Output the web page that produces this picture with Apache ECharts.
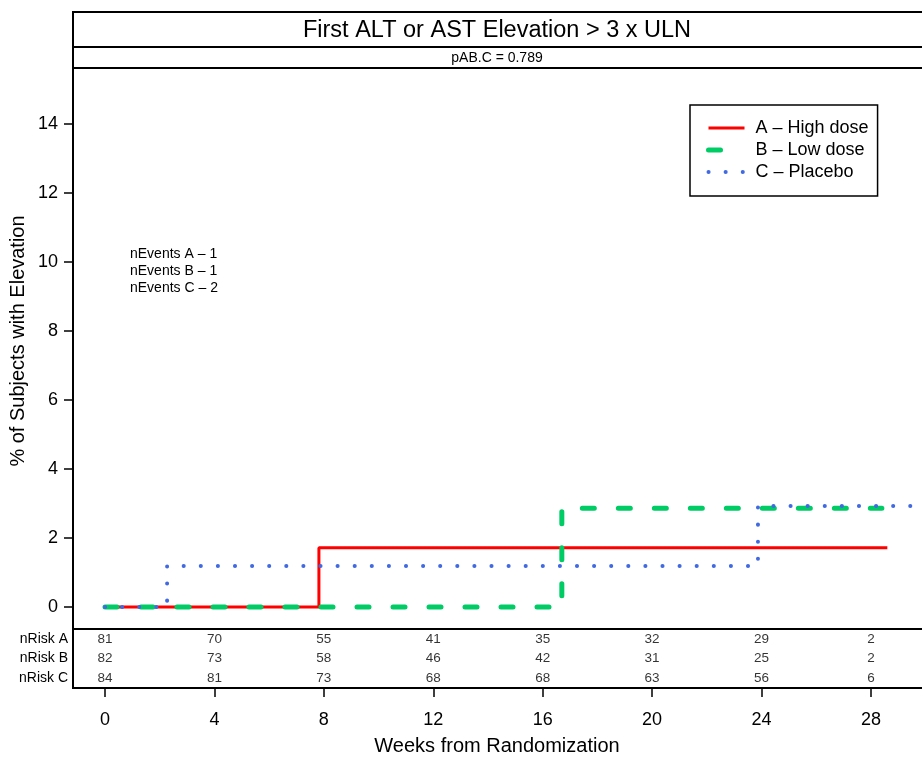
<!DOCTYPE html>
<html>
<head>
<meta charset="utf-8">
<script src="https://cdn.jsdelivr.net/npm/echarts@6/dist/echarts.min.js"></script>
<style>
  html, body { margin: 0; padding: 0; background: #fff; }
  #chart { width: 922px; height: 760px; }
</style>
</head>
<body>
<div id="chart"></div>
<script>
// weeks where the at-risk counts are reported
const weeks = [0, 4, 8, 12, 16, 20, 24, 28]
const riskA = [81, 70, 55, 41, 35, 32, 29, 2]
const riskB = [82, 73, 58, 46, 42, 31, 25, 2]
const riskC = [84, 81, 73, 68, 68, 63, 56, 6]
const riskRows = ['nRisk C', 'nRisk B', 'nRisk A']

const seriesNames = ['A – High dose', 'B – Low dose', 'C – Placebo']
// cumulative % with elevation, [week, percent] step points
const stepA = [[0, 0], [7.82, 1.72], [28.6, 1.72]]
const stepB = [[0, 0], [16.7, 2.86], [28.4, 2.86]]
const stepC = [[0, 0], [2.27, 1.19], [23.87, 2.93], [31, 2.93]]

const yTicks = [0, 2, 4, 6, 8, 10, 12, 14]
const nEvents = ['nEvents A – 1', 'nEvents B – 1', 'nEvents C – 2']

const FONT = '"Liberation Sans", Arial, sans-serif'
const X_MIN = -1.17
const X_MAX = 31.0

const lineStyles = [
  { color: '#ff0000', width: 3 },
  { color: '#00cc66', width: 5, type: [12, 24], cap: 'round' },
  { color: '#4169e1', width: 4, type: [0.1, 17], cap: 'round' }
]

function riskPoints (row, values) {
  return weeks.map((w, i) => [w, row, values[i]])
}

const chart = echarts.init(document.getElementById('chart'), null, { renderer: 'canvas' })

const option = {
  animation: false,
  textStyle: { fontFamily: FONT, color: '#000' },
  graphic: [
    { type: 'rect', shape: { x: 73, y: 12, width: 880, height: 35 }, style: { fill: 'none', stroke: '#000', lineWidth: 2 } },
    { type: 'rect', shape: { x: 73, y: 47, width: 880, height: 21 }, style: { fill: 'none', stroke: '#000', lineWidth: 2 } },
    { type: 'text', x: 497, y: 31, style: { text: 'First ALT or AST Elevation > 3 x ULN', font: '23.5px ' + FONT, fill: '#000', textAlign: 'center', textVerticalAlign: 'middle' } },
    { type: 'text', x: 497, y: 58, style: { text: 'pAB.C = 0.789', font: '14px ' + FONT, fill: '#000', textAlign: 'center', textVerticalAlign: 'middle' } },
    { type: 'text', x: 130, y: 246, style: { text: nEvents.join('\n'), font: '14px ' + FONT, lineHeight: 17, fill: '#000' } },
    { type: 'text', x: 18, y: 341, rotation: Math.PI / 2, style: { text: '% of Subjects with Elevation', font: '20px ' + FONT, fill: '#000', textAlign: 'center', textVerticalAlign: 'middle' } },
    { type: 'text', x: 497, y: 746, style: { text: 'Weeks from Randomization', font: '20px ' + FONT, fill: '#000', textAlign: 'center', textVerticalAlign: 'middle' } }
  ],
  legend: {
    data: seriesNames.map((name, i) => ({ name, lineStyle: lineStyles[i] })),
    orient: 'vertical',
    left: 690,
    top: 105,
    padding: [13, 9, 14, 16],
    itemWidth: 36,
    itemHeight: 14,
    itemGap: 2,
    borderColor: '#000',
    borderWidth: 1.5,
    itemStyle: { opacity: 0 },
    textStyle: { fontSize: 18, lineHeight: 20, color: '#000', fontFamily: FONT, padding: [0, 0, 0, 6] }
  },
  grid: [
    { left: 73, top: 68, width: 880, height: 561, outerBoundsMode: 'none', show: true, borderColor: '#000', borderWidth: 2, backgroundColor: 'transparent' },
    { left: 73, top: 629, width: 880, height: 59, outerBoundsMode: 'none', show: true, borderColor: '#000', borderWidth: 2, backgroundColor: 'transparent' }
  ],
  xAxis: [
    {
      type: 'value', gridIndex: 0, min: X_MIN, max: X_MAX,
      axisLine: { show: false, onZero: false }, axisTick: { show: false }, axisLabel: { show: false }, splitLine: { show: false }
    },
    {
      type: 'value', gridIndex: 1, min: X_MIN, max: X_MAX, position: 'bottom',
      axisLine: { show: false, onZero: false },
      axisTick: { show: true, length: 9, customValues: weeks, lineStyle: { color: '#000', width: 1.5 } },
      axisLabel: { customValues: weeks, margin: 23, fontSize: 18, color: '#000', fontFamily: FONT },
      splitLine: { show: false }
    }
  ],
  yAxis: [
    {
      type: 'value', gridIndex: 0, min: -0.638, max: 15.623, position: 'left',
      axisLine: { show: false, onZero: false },
      axisTick: { show: true, length: 9, customValues: yTicks, lineStyle: { color: '#000', width: 1.5 } },
      axisLabel: { customValues: yTicks, margin: 15, fontSize: 18, color: '#000', fontFamily: FONT },
      splitLine: { show: false }
    },
    {
      type: 'category', gridIndex: 1, data: riskRows, position: 'left',
      axisLine: { show: false, onZero: false }, axisTick: { show: false },
      axisLabel: { margin: 5, fontSize: 14, color: '#000', fontFamily: FONT },
      splitLine: { show: false }
    }
  ],
  series: [
    {
      name: seriesNames[0], type: 'line', step: 'end', data: stepA, symbol: 'none',
      lineStyle: lineStyles[0], itemStyle: { color: lineStyles[0].color }
    },
    {
      name: seriesNames[1], type: 'line', step: 'end', data: stepB, symbol: 'none',
      lineStyle: lineStyles[1], itemStyle: { color: lineStyles[1].color }
    },
    {
      name: seriesNames[2], type: 'line', step: 'end', data: stepC, symbol: 'none',
      lineStyle: lineStyles[2], itemStyle: { color: lineStyles[2].color }
    },
    ...[[riskRows[2], riskA], [riskRows[1], riskB], [riskRows[0], riskC]].map(([row, vals]) => ({
      type: 'scatter', xAxisIndex: 1, yAxisIndex: 1,
      data: riskPoints(row, vals),
      symbolSize: 1,
      itemStyle: { color: 'rgba(0,0,0,0)' },
      label: { show: true, position: 'inside', formatter: p => p.value[2], fontSize: 13.5, color: '#000', fontFamily: FONT },
      silent: true
    }))
  ]
}

chart.setOption(option)
</script>
</body>
</html>
